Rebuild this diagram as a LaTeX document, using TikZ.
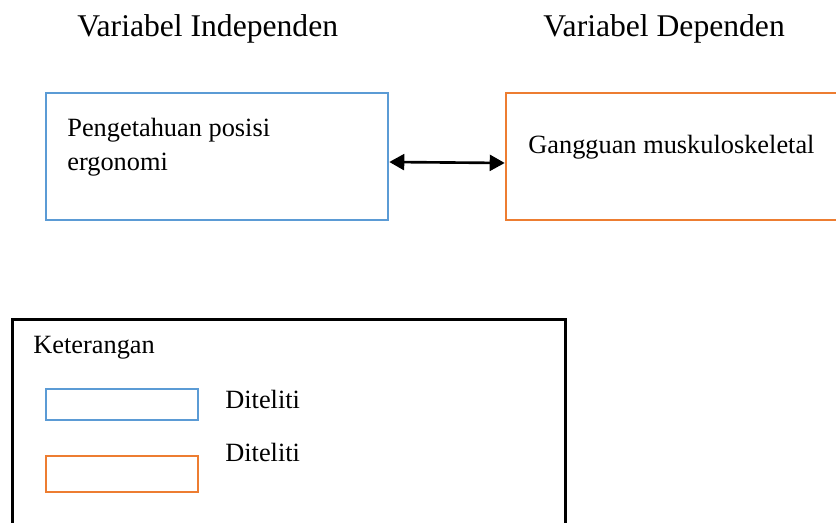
\documentclass[tikz,border=0pt]{standalone}
\usepackage{fontspec}
\setmainfont{Liberation Serif}
\usetikzlibrary{arrows.meta}
\definecolor{biru}{HTML}{5B9BD5}
\definecolor{oranye}{HTML}{ED7D31}

\begin{document}
\begin{tikzpicture}[x=0.02cm, y=-0.02cm,
    judul/.style ={font=\fontsize{18}{22}\selectfont, anchor=base west, inner sep=0pt},
    teks/.style ={font=\fontsize{15}{18}\selectfont, anchor=base west, inner sep=0pt},
    variabel/.style ={rectangle, line width=1.5pt, minimum width=6.84cm, minimum height=2.54cm, inner sep=0pt},
    contoh/.style ={rectangle, line width=1.5pt, minimum width=3.04cm, inner sep=0pt},
    panah/.style ={line width=1.5pt, {Triangle[length=0.3cm,width=0.32cm]}-{Triangle[length=0.3cm,width=0.32cm]}}]
   \clip (0,0) rectangle (836,523);
   % judul kolom
   \node[judul] (judulX) at (77,37) {Variabel Independen};
   \node[judul] (judulY) at (543,37) {Variabel Dependen};
   % kotak variabel
   \node[variabel, draw=biru] (X) at (217,156.5) {};
   \node[variabel, draw=oranye] (Y) at (677,156.5) {};
   \node[teks] (pengetahuan) at (67,137) {Pengetahuan posisi};
   \node[teks] (ergonomi) at (67,171) {ergonomi};
   \node[teks] (gangguan) at (528,154) {Gangguan muskuloskeletal};
   \draw[panah] ([yshift=-0.11cm]X.east) to ([yshift=-0.13cm]Y.west);
   % keterangan
   \node[rectangle, draw, line width=1.7pt, minimum width=11.08cm, minimum height=4.82cm] (legenda) at (289,439.5) {};
   \node[teks] (keterangan) at (33,354) {Keterangan};
   \node[contoh, draw=biru, minimum height=0.62cm] (kotakX) at (122,404.5) {};
   \node[contoh, draw=oranye, minimum height=0.72cm] (kotakY) at (122,474) {};
   \node[teks] (diteliti1) at (225,409) {Diteliti};
   \node[teks] (diteliti2) at (225,462) {Diteliti};
 \end{tikzpicture}
\end{document}
